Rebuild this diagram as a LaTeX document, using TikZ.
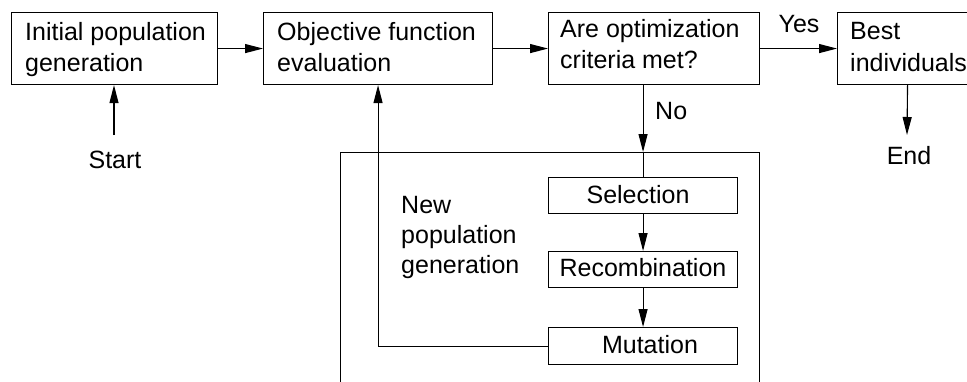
\documentclass[tikz,border=0pt]{standalone}
\usepackage{fontspec}
\setmainfont{Liberation Sans}
\usetikzlibrary{arrows.meta}
\begin{document}
\begin{tikzpicture}[x=1pt,y=-1pt,
 box/.style={draw,line width=1.1pt,inner sep=0pt,anchor=north west},
 lbl/.style={font=\fontsize{25}{30}\selectfont,inner sep=0pt,anchor=base west},
 arr/.style={line width=1.1pt,-{Triangle[length=18pt,width=9pt]}},
 ln/.style={line width=1.1pt}]
\useasboundingbox (0,0) rectangle (967,381);
\clip (0,0) rectangle (967,381);
% top row boxes
\node[box,minimum width=206pt,minimum height=72pt] (init) at (11,12) {};
\node[box,minimum width=229pt,minimum height=72pt] (obj) at (263,12) {};
\node[box,minimum width=211pt,minimum height=72pt] (crit) at (548,12) {};
\node[box,minimum width=140pt,minimum height=72pt] (best) at (837,12) {};
% texts in top boxes
\node[lbl] (t1a) at (25,40) {Initial population};
\node[lbl] (t1b) at (25,71) {generation};
\node[lbl] (t2a) at (277,40) {Objective function};
\node[lbl] (t2b) at (277,71) {evaluation};
\node[lbl] (t3a) at (560,37) {Are optimization};
\node[lbl] (t3b) at (560,68) {criteria met?};
\node[lbl] (t4a) at (850,39) {Best};
\node[lbl] (t4b) at (850,71) {individuals};
% big box (open at the bottom)
\node[box,minimum width=419pt,minimum height=260pt] (big) at (340,152) {};
% inner boxes
\node[box,minimum width=189pt,minimum height=36pt] (sel) at (548,177) {};
\node[box,minimum width=189pt,minimum height=36pt] (rec) at (548,251) {};
\node[box,minimum width=189pt,minimum height=37pt] (mut) at (548,327) {};
\node[lbl,anchor=base] (tsel) at (638,203) {Selection};
\node[lbl,anchor=base] (trec) at (643,276) {Recombination};
\node[lbl,anchor=base] (tmut) at (650,353) {Mutation};
% new population text
\node[lbl] (np1) at (401,213) {New};
\node[lbl] (np2) at (401,243) {population};
\node[lbl] (np3) at (401,273) {generation};
% start / end / labels
\node[lbl,anchor=base] (start) at (115,168) {Start};
\coordinate (s0) at (114,135);
\node[lbl,anchor=base] (end) at (909,164) {End};
\coordinate (e0) at (907,135);
\node[lbl,anchor=base] (yes) at (799,32) {Yes};
\node[lbl] (no) at (655,119) {No};
% connectors
\draw[arr] (init.east) -- (obj.west);
\draw[arr] (obj.east) -- (crit.west);
\draw[arr] (crit.east) -- (best.west);
\draw[arr] (s0) -- (s0 |- init.south);
\draw[arr] (best.south) -- (e0);
\draw[arr] (sel.north |- crit.south) -- (sel.north |- big.north);
\draw[ln] (sel.north |- big.north) -- (sel.north);
\draw[arr] (sel.south) -- (rec.north);
\draw[arr] (rec.south) -- (mut.north);
\draw[arr] (mut.west) -| (obj.south);
\end{tikzpicture}
\end{document}
